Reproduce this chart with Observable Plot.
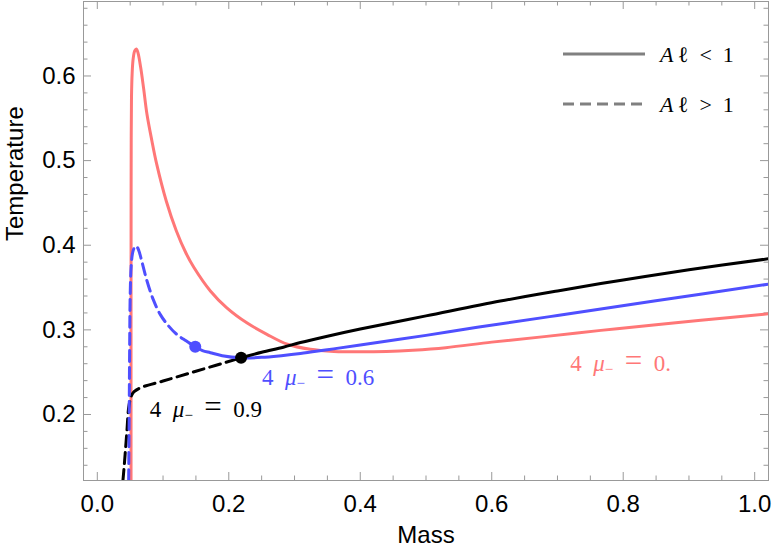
<!DOCTYPE html>
<html>
<head>
<meta charset="utf-8">
<script src="https://cdn.jsdelivr.net/npm/d3@7"></script>
<script src="https://cdn.jsdelivr.net/npm/@observablehq/plot@0.6"></script>
<style>
  body { margin: 0; background: #fff; }
  #chart svg { display: block; }
</style>
</head>
<body>
<div id="chart"></div>
<script>
// ---------- data ----------
// 4μ₋ = 0 (red), Aℓ < 1 everywhere
const redMass = [0.0513, 0.0513, 0.0514, 0.0516, 0.052, 0.053, 0.0545, 0.057, 0.0594, 0.062, 0.066, 0.0705, 0.0755, 0.083, 0.09, 0.105, 0.12, 0.135, 0.147, 0.172, 0.197, 0.228, 0.258, 0.289, 0.324, 0.36, 0.4, 0.44, 0.48, 0.53, 0.6, 0.68, 0.766, 0.85, 0.918, 1.021];
const redTemp = [0.122, 0.3, 0.45, 0.53, 0.575, 0.603, 0.62, 0.63, 0.632, 0.627, 0.610, 0.585, 0.555, 0.5235, 0.497, 0.452, 0.4175, 0.3905, 0.3737, 0.346, 0.326, 0.308, 0.2947, 0.283, 0.277, 0.2745, 0.274, 0.2745, 0.276, 0.279, 0.2855, 0.292, 0.2994, 0.306, 0.3113, 0.319];

// 4μ₋ = 0.6 (blue): dashed branch (Aℓ > 1) and solid branch (Aℓ < 1)
const blueDashMass = [0.0477, 0.0485, 0.0492, 0.05, 0.0515, 0.054, 0.057, 0.0594, 0.063, 0.068, 0.0755, 0.085, 0.0959, 0.108, 0.121, 0.135, 0.149];
const blueDashTemp = [0.122, 0.2, 0.28, 0.34, 0.375, 0.392, 0.398, 0.399, 0.394, 0.38, 0.358, 0.336, 0.318, 0.305, 0.2946, 0.287, 0.280];
const blueSolidMass = [0.149, 0.16, 0.172, 0.19, 0.2187, 0.25, 0.28, 0.309, 0.35, 0.4, 0.5, 0.578, 0.7, 0.847, 1.021];
const blueSolidTemp = [0.280, 0.2755, 0.273, 0.2695, 0.267, 0.2675, 0.2695, 0.272, 0.2765, 0.282, 0.2935, 0.303, 0.317, 0.334, 0.354];

// 4μ₋ = 0.9 (black)
const blackDashMass = [0.039, 0.041, 0.043, 0.045, 0.0477, 0.0505, 0.0528, 0.056, 0.0654, 0.1, 0.15, 0.2187];
const blackDashTemp = [0.122, 0.14, 0.16, 0.18, 0.208, 0.219, 0.2237, 0.227, 0.2315, 0.2395, 0.2511, 0.267];
const blackSolidMass = [0.2187, 0.25, 0.283, 0.309, 0.35, 0.4, 0.5, 0.613, 0.7, 0.8, 0.9, 1.021];
const blackSolidTemp = [0.267, 0.2735, 0.2795, 0.285, 0.2925, 0.301, 0.3165, 0.334, 0.346, 0.359, 0.371, 0.384];

// transition points (Aℓ = 1)
const dotMass = [0.149, 0.2187];
const dotTemp = [0.280, 0.267];
const dotSeries = ["0.6", "0.9"];

// curve labels
const labelValue = ["0.", "0.6", "0.9"];
const labelSeries = ["0", "0.6", "0.9"];
const labelMass = [0.72, 0.2511, 0.0807];
const labelTemp = [0.2512, 0.2345, 0.1966];

// legend
const legendText = ["<", ">"];

// axes
const xMajor = [0, 0.2, 0.4, 0.6, 0.8, 1.0];
const xMinor = [0.05, 0.1, 0.15, 0.25, 0.3, 0.35, 0.45, 0.5, 0.55, 0.65, 0.7, 0.75, 0.85, 0.9, 0.95];
const yMajor = [0.2, 0.3, 0.4, 0.5, 0.6];
const yMinor = [0.14, 0.16, 0.18, 0.22, 0.24, 0.26, 0.28, 0.32, 0.34, 0.36, 0.38, 0.42, 0.44, 0.46, 0.48, 0.52, 0.54, 0.56, 0.58, 0.62, 0.64, 0.66, 0.68];

// ---------- styling ----------
const colors = {"0": "#FF7777", "0.6": "#4F4FFF", "0.9": "#000000"};
const frameColor = "#999999";
const serif = "'Liberation Serif', 'Times New Roman', serif";
const sans = "'Liberation Sans', Arial, Helvetica, sans-serif";
const dash = "11,6";
const curve = "catmull-rom";

const W = 773, H = 559;
const mL = 83, mR = 5, mT = 1, mB = 79;
const plotW = W - mL - mR, plotH = H - mT - mB;
const majLen = 8, minLen = 4.5;

const rows = (ms, ts) => ms.map((m, i) => ({mass: m, temp: ts[i]}));
const dots = dotMass.map((m, i) => ({mass: m, temp: dotTemp[i], s: dotSeries[i]}));

// curve label renderer (mixed italic / subscript text)
function curveLabels(index, scales) {
  const g = d3.create("svg:g").attr("font-family", serif).attr("font-size", 23).attr("text-anchor", "start");
  labelValue.forEach((v, i) => {
    const s = labelSeries[i];
    const t = g.append("text")
      .attr("x", scales.x(labelMass[i]))
      .attr("y", scales.y(labelTemp[i]))
      .attr("fill", colors[s]);
    t.append("tspan").text("4\u2002");
    t.append("tspan").attr("font-style", "italic").text("\u03BC");
    t.append("tspan").attr("font-size", 15).attr("dy", 3).text("\u2212");
    t.append("tspan").attr("dy", -3).text("\u2002");
    t.append("tspan").attr("font-size", 31).text("=");
    t.append("tspan").text("\u2002" + v);
  });
  return g.node();
}

// legend renderer
function legend(index, scales, values, dims) {
  const right = dims.width - dims.marginRight;
  const top = dims.marginTop;
  const g = d3.create("svg:g").attr("text-anchor", "start");
  legendText.forEach((op, i) => {
    const y = top + 53 + i * 50;
    g.append("line")
      .attr("x1", right - 205).attr("x2", right - 123)
      .attr("y1", y).attr("y2", y)
      .attr("stroke", "#808080").attr("stroke-width", 3)
      .attr("stroke-dasharray", i === 0 ? null : dash);
    const t = g.append("text")
      .attr("x", right - 108).attr("y", y + 8)
      .attr("font-family", serif).attr("font-size", 22).attr("fill", "#000");
    t.append("tspan").attr("font-style", "italic").text("A");
    t.append("tspan").text("\u2009\u2113\u2002" + op + "\u20021");
  });
  return g.node();
}

const chart = Plot.plot({
  width: W, height: H,
  marginLeft: mL, marginRight: mR, marginTop: mT, marginBottom: mB,
  style: {fontFamily: sans, fontSize: "24px", background: "#fff", color: "#000"},
  x: {domain: [-0.021, 1.021]},
  y: {domain: [0.122, 0.688]},
  marks: [
    // frame ticks (inward, on all four sides)
    Plot.tickX(xMajor, {x: d => d, stroke: frameColor, insetTop: plotH - majLen}),
    Plot.tickX(xMinor, {x: d => d, stroke: frameColor, insetTop: plotH - minLen}),
    Plot.tickX(xMajor, {x: d => d, stroke: frameColor, insetBottom: plotH - majLen}),
    Plot.tickX(xMinor, {x: d => d, stroke: frameColor, insetBottom: plotH - minLen}),
    Plot.tickY(yMajor, {y: d => d, stroke: frameColor, insetRight: plotW - majLen}),
    Plot.tickY(yMinor, {y: d => d, stroke: frameColor, insetRight: plotW - minLen}),
    Plot.tickY(yMajor, {y: d => d, stroke: frameColor, insetLeft: plotW - majLen}),
    Plot.tickY(yMinor, {y: d => d, stroke: frameColor, insetLeft: plotW - minLen}),
    Plot.axisX({ticks: xMajor, tickSize: 0, tickPadding: 14, tickFormat: d3.format(".1f"), label: null, fontSize: 24}),
    Plot.axisY({ticks: yMajor, tickSize: 0, tickPadding: 8, tickFormat: d3.format(".1f"), label: null, fontSize: 24}),
    Plot.text(["Mass"], {frameAnchor: "bottom", dy: 62, text: d => d, fontSize: 24}),
    Plot.text(["Temperature"], {frameAnchor: "left", dx: -68, rotate: -90, text: d => d, fontSize: 24}),
    // curves
    Plot.line(rows(redMass, redTemp), {x: "mass", y: "temp", stroke: colors["0"], strokeWidth: 3, curve, clip: true}),
    Plot.line(rows(blackDashMass, blackDashTemp), {x: "mass", y: "temp", stroke: colors["0.9"], strokeWidth: 3, strokeDasharray: dash, curve, clip: true}),
    Plot.line(rows(blueDashMass, blueDashTemp), {x: "mass", y: "temp", stroke: colors["0.6"], strokeWidth: 3, strokeDasharray: dash, curve, clip: true}),
    Plot.line(rows(blueSolidMass, blueSolidTemp), {x: "mass", y: "temp", stroke: colors["0.6"], strokeWidth: 3, curve, clip: true}),
    Plot.line(rows(blackSolidMass, blackSolidTemp), {x: "mass", y: "temp", stroke: colors["0.9"], strokeWidth: 3, curve, clip: true}),
    Plot.dot(dots, {x: "mass", y: "temp", r: 6, fill: d => colors[d.s], stroke: "none"}),
    curveLabels,
    legend,
    Plot.frame({stroke: frameColor})
  ]
});
document.getElementById("chart").append(chart);
</script>
</body>
</html>
